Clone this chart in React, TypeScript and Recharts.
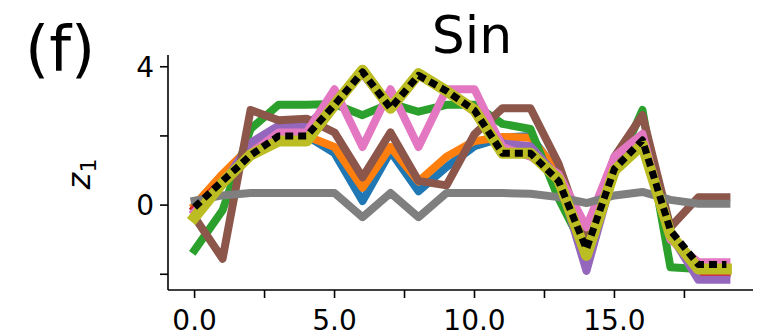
import React from "react";
import { LineChart, Line, XAxis, YAxis } from "recharts";

const xValues = [0, 1, 2, 3, 4, 5, 6, 7, 8, 9, 10, 11, 12, 13, 14, 15, 16, 17, 18, 19];
const blueSeries = [-0.1, 0.8, 1.6, 2.05, 2.0, 1.5, 0.12, 1.55, 0.4, 1.1, 1.7, 1.95, 2.0, 0.9, -1.5, 1.0, 1.9, -0.9, -1.95, -1.95];
const orangeSeries = [0.0, 0.9, 1.7, 2.1, 2.0, 1.68, 0.5, 1.68, 0.68, 1.4, 1.85, 1.97, 1.95, 0.95, -1.45, 1.0, 1.9, -0.9, -1.95, -1.95];
const greenSeries = [-1.3, -0.15, 2.2, 2.9, 2.9, 2.92, 2.6, 2.94, 2.7, 2.9, 2.9, 2.35, 2.2, 0.2, -1.4, 0.9, 2.75, -1.8, -1.85, -1.85];
const redSeries = [-0.1, 0.7, 1.45, 2.0, 2.0, 2.9, 3.85, 2.8, 3.75, 3.3, 2.7, 1.5, 1.5, 0.7, -1.3, 1.05, 1.85, -0.8, -1.98, -1.98];
const purpleSeries = [-0.2, 0.6, 1.8, 2.3, 2.3, 3.0, 3.8, 2.8, 3.8, 3.3, 2.8, 1.78, 1.7, 0.8, -1.9, 1.0, 1.9, -0.85, -2.16, -2.16];
const brownSeries = [-0.35, -1.55, 2.75, 2.45, 2.5, 2.1, 0.8, 2.1, 0.7, 0.57, 2.05, 2.8, 2.8, 1.2, -1.1, 1.4, 2.6, -0.64, 0.23, 0.23];
const pinkSeries = [-0.2, 0.6, 1.5, 2.1, 2.1, 3.35, 1.68, 3.35, 1.68, 3.35, 3.35, 1.68, 1.4, 0.9, -0.64, 1.4, 2.06, -1.0, -1.65, -1.65];
const graySeries = [0.13, 0.28, 0.35, 0.35, 0.35, 0.35, -0.35, 0.35, -0.35, 0.35, 0.35, 0.35, 0.33, 0.23, 0.06, 0.28, 0.38, 0.15, 0.04, 0.04];
const oliveSeries = [-0.35, 0.65, 1.45, 1.85, 1.85, 2.9, 3.9, 2.8, 3.8, 3.3, 2.75, 1.5, 1.5, 0.75, -1.45, 1.0, 1.75, -0.85, -1.85, -1.85];
const blackSeries = [-0.06, 0.7, 1.44, 2.0, 2.0, 2.9, 3.85, 2.8, 3.75, 3.3, 2.74, 1.5, 1.5, 0.7, -1.27, 1.05, 1.88, -0.73, -1.72, -1.72];

const xTicks = [0, 2.5, 5, 7.5, 10, 12.5, 15, 17.5];
const xTickLabels: Record<string, string> = { "0": "0.0", "5": "5.0", "10": "10.0", "15": "15.0" };
const yTicks = [-2, 0, 2, 4];
const yTickLabels: Record<string, string> = { "0": "0", "4": "4" };

const titleText = "Sin";
const panelLabel = "(f)";

const data = xValues.map((x, i) => ({
  x,
  blue: blueSeries[i],
  orange: orangeSeries[i],
  green: greenSeries[i],
  red: redSeries[i],
  purple: purpleSeries[i],
  brown: brownSeries[i],
  pink: pinkSeries[i],
  gray: graySeries[i],
  olive: oliveSeries[i],
  black: blackSeries[i],
}));

const solid = [
  { key: "blue", color: "#1f77b4" },
  { key: "orange", color: "#ff7f0e" },
  { key: "green", color: "#2ca02c" },
  { key: "red", color: "#d62728" },
  { key: "purple", color: "#9467bd" },
  { key: "brown", color: "#8c564b" },
  { key: "pink", color: "#e377c2" },
  { key: "gray", color: "#7f7f7f" },
];

const FONT = "'DejaVu Sans', sans-serif";

export default function App() {
  return (
    <div style={{ position: "relative", width: 762, height: 328 }}>
      <LineChart
        width={762}
        height={328}
        data={data}
        margin={{ top: 47, right: 17, left: 0, bottom: 0 }}
      >
        <XAxis
          dataKey="x"
          type="number"
          domain={[-0.95, 19.95]}
          ticks={xTicks}
          allowDataOverflow
          interval={0}
          height={46}
          tickSize={8}
          tickMargin={12}
          tickFormatter={(v: number) => xTickLabels[String(v)] ?? ""}
          axisLine={{ stroke: "#000", strokeWidth: 1.6 }}
          tickLine={{ stroke: "#000", strokeWidth: 1.6 }}
          tick={{ fill: "#000", fontSize: 28, fontFamily: FONT }}
        />
        <YAxis
          type="number"
          domain={[-2.455, 4.34]}
          ticks={yTicks}
          allowDataOverflow
          interval={0}
          width={160}
          tickSize={8}
          tickMargin={6}
          tickFormatter={(v: number) => yTickLabels[String(v)] ?? ""}
          axisLine={{ stroke: "#000", strokeWidth: 1.6 }}
          tickLine={{ stroke: "#000", strokeWidth: 1.6 }}
          tick={{ fill: "#000", fontSize: 28, fontFamily: FONT }}
        />
        {solid.map((s) => (
          <Line
            key={s.key}
            dataKey={s.key}
            type="linear"
            stroke={s.color}
            strokeWidth={8}
            strokeLinecap="square"
            strokeLinejoin="round"
            dot={false}
            activeDot={false}
            isAnimationActive={false}
          />
        ))}
        <Line
          dataKey="olive"
          type="linear"
          stroke="#bcbd22"
          strokeWidth={11}
          strokeLinecap="square"
          strokeLinejoin="round"
          dot={false}
          activeDot={false}
          isAnimationActive={false}
        />
        <Line
          dataKey="black"
          type="linear"
          stroke="#000"
          strokeWidth={7}
          strokeDasharray="8 5"
          strokeLinecap="butt"
          strokeLinejoin="round"
          dot={false}
          activeDot={false}
          isAnimationActive={false}
        />
      </LineChart>
      <svg
        width={762}
        height={328}
        style={{ position: "absolute", left: 0, top: 0, pointerEvents: "none" }}
      >
        <text x={464} y={45} textAnchor="middle" fontSize={52} fontFamily={FONT} fill="#000">
          {titleText}
        </text>
        <text x={17} y={62} textAnchor="start" fontSize={62} fontFamily={FONT} fill="#000">
          {panelLabel}
        </text>
        <text
          transform="translate(82,166) rotate(-90)"
          textAnchor="middle"
          fontSize={32}
          fontFamily={FONT}
          fill="#000"
        >
          <tspan fontStyle="italic">z</tspan>
          <tspan fontSize={22} dy={6}>1</tspan>
        </text>
      </svg>
    </div>
  );
}
